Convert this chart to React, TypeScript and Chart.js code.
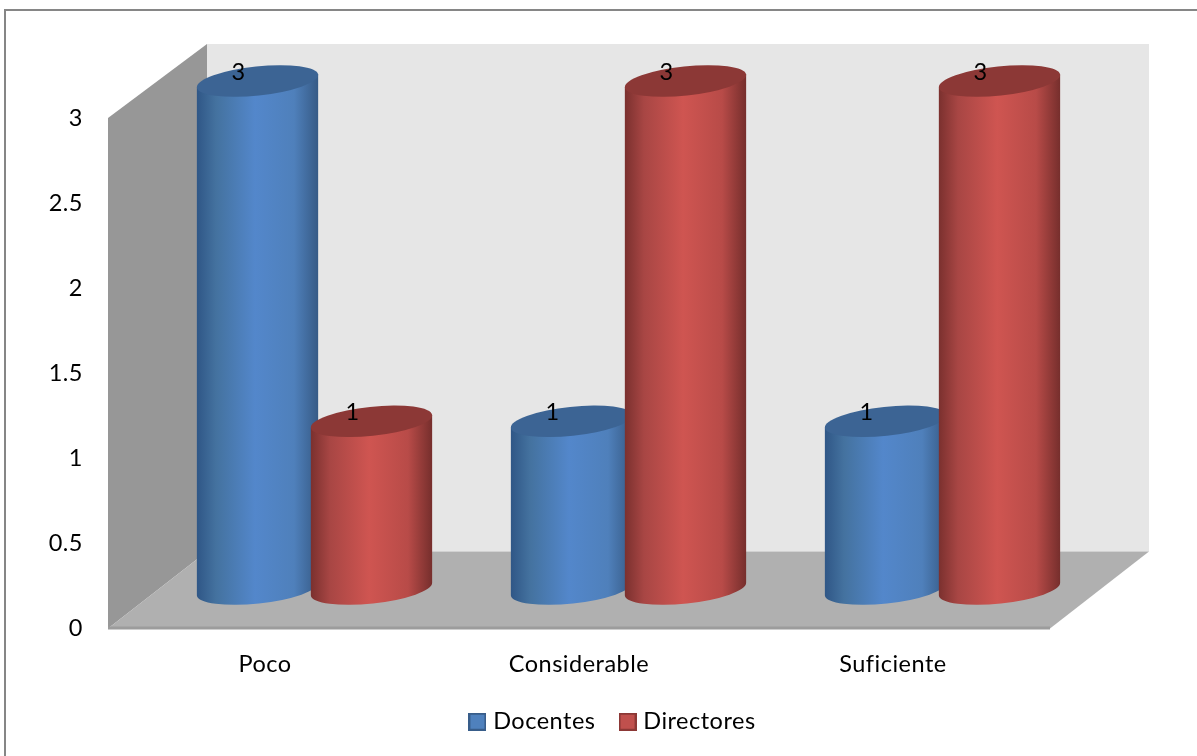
import React, { useEffect, useRef } from "react";
import { Chart, registerables } from "chart.js";

Chart.register(...registerables);

const categories = ["Poco", "Considerable", "Suficiente"];
const docentes = [3, 1, 1];
const directores = [1, 3, 3];
const yTicks = [0, 0.5, 1, 1.5, 2, 2.5, 3];

const FONT = "Lato";
const FONT_SIZE = 23.5;
const DEPTH_X = 99;
const DEPTH_Y = -74;
const FLOOR_DEPTH_Y = -77;
const TRACKING = "0.5px";

type Palette = { edgeL: string; midL: string; mid: string; midR: string; edgeR: string; cap: string; fill: string; line: string };

const BLUE: Palette = { edgeL: "#2f5686", midL: "#44729f", mid: "#5387cb", midR: "#4f80bb", edgeR: "#365a85", cap: "#3c6494", fill: "#4f81bd", line: "#385d8a" };
const RED: Palette = { edgeL: "#7a302e", midL: "#a84644", mid: "#cf5551", midR: "#b84b48", edgeR: "#752e2c", cap: "#8c3836", fill: "#c0504d", line: "#8c3836" };
const palettes = [BLUE, RED];

function legendSwatch(p: Palette) {
  const c = document.createElement("canvas");
  c.width = 18;
  c.height = 18;
  const g = c.getContext("2d")!;
  g.fillStyle = p.fill;
  g.fillRect(0, 0, 18, 18);
  g.strokeStyle = p.line;
  g.lineWidth = 2;
  g.strokeRect(1, 1, 16, 16);
  return c;
}

// Page frame plus the three shaded planes of the 3D box.
const boxPlugin = {
  id: "box3d",
  beforeLayout(chart: any) {
    // Wider tracking on all labels; it has to be in place before labels are measured.
    chart.ctx.letterSpacing = TRACKING;
  },
  beforeDraw(chart: any) {
    const { ctx, width, height } = chart;
    ctx.letterSpacing = TRACKING;
    ctx.save();
    ctx.fillStyle = "#ffffff";
    ctx.fillRect(0, 0, width, height);
    ctx.fillStyle = "#868686";
    ctx.fillRect(4, 9, width - 4, 2);
    ctx.fillRect(4, 9, 2, height - 9);
    ctx.restore();
  },
  beforeDatasetsDraw(chart: any) {
    const { ctx, chartArea: a } = chart;
    const poly = (pts: number[][], color: string) => {
      ctx.fillStyle = color;
      ctx.beginPath();
      pts.forEach(([x, y], i) => (i ? ctx.lineTo(x, y) : ctx.moveTo(x, y)));
      ctx.closePath();
      ctx.fill();
    };
    const backBottom = a.bottom + FLOOR_DEPTH_Y;
    ctx.save();
    poly([[a.left + DEPTH_X, a.top + DEPTH_Y], [a.right + DEPTH_X, a.top + DEPTH_Y], [a.right + DEPTH_X, backBottom], [a.left + DEPTH_X, backBottom]], "#e6e6e6");
    poly([[a.left, a.top], [a.left + DEPTH_X, a.top + DEPTH_Y], [a.left + DEPTH_X, backBottom], [a.left, a.bottom]], "#979797");
    poly([[a.left, a.bottom], [a.left + DEPTH_X, backBottom], [a.right + DEPTH_X, backBottom], [a.right, a.bottom]], "#b0b0b0");
    ctx.fillStyle = "#9c9c9c";
    ctx.fillRect(a.left, a.bottom - 2, a.right - a.left, 3);
    ctx.restore();
  },
  afterDatasetsDraw(chart: any) {
    const { ctx } = chart;
    const tilt = -0.105;
    chart.data.datasets.forEach((ds: any, di: number) => {
      const p = palettes[di];
      chart.getDatasetMeta(di).data.forEach((bar: any, i: number) => {
        const cx = bar.x + DEPTH_X / 2;
        const topY = bar.y + DEPTH_Y / 2;
        const baseY = bar.base + DEPTH_Y / 2 - 2.5;
        const a = bar.width / 2;
        const b = 14.5;
        const dx = a * Math.cos(tilt);
        const dy = a * Math.sin(tilt);
        const grad = ctx.createLinearGradient(cx - a, 0, cx + a, 0);
        grad.addColorStop(0, p.edgeL);
        grad.addColorStop(0.16, p.midL);
        grad.addColorStop(0.48, p.mid);
        grad.addColorStop(0.8, p.midR);
        grad.addColorStop(1, p.edgeR);
        ctx.save();
        ctx.fillStyle = grad;
        ctx.beginPath();
        ctx.moveTo(cx + dx, topY + dy);
        ctx.lineTo(cx + dx, baseY + dy);
        ctx.ellipse(cx, baseY, a, b, tilt, 0, Math.PI);
        ctx.lineTo(cx - dx, topY - dy);
        ctx.closePath();
        ctx.fill();
        ctx.fillStyle = p.cap;
        ctx.beginPath();
        ctx.ellipse(cx, topY, a, b, tilt, 0, Math.PI * 2);
        ctx.fill();
        ctx.restore();
      });
    });
    // Value labels sit over the caps, after every cylinder has been painted.
    chart.data.datasets.forEach((ds: any, di: number) => {
      chart.getDatasetMeta(di).data.forEach((bar: any, i: number) => {
        ctx.save();
        ctx.fillStyle = "#000000";
        ctx.font = `${FONT_SIZE}px ${FONT}`;
        ctx.textAlign = "center";
        ctx.textBaseline = "middle";
        ctx.fillText(String(ds.data[i]), bar.x + DEPTH_X / 2 - 19, bar.y + DEPTH_Y / 2 - 9);
        ctx.restore();
      });
    });
  },
  afterLayout(chart: any) {
    const lg = chart.legend;
    lg.left = 0;
    lg.right = 1229;
    lg.top = 682;
    lg.adjustHitBoxes();
  },
};

export default function App() {
  const ref = useRef<HTMLCanvasElement>(null);
  useEffect(() => {
    document.body.style.margin = "0";
    const chart = new Chart(ref.current!, {
      type: "bar",
      data: {
        labels: categories,
        datasets: [
          { label: "Docentes", data: docentes, backgroundColor: "rgba(0,0,0,0)", categoryPercentage: 0.726, barPercentage: 1.07 },
          { label: "Directores", data: directores, backgroundColor: "rgba(0,0,0,0)", categoryPercentage: 0.726, barPercentage: 1.07 },
        ],
      },
      plugins: [boxPlugin],
      options: {
        animation: false,
        responsive: false,
        layout: { padding: { top: 118, right: 147, left: 0, bottom: 19 } },
        scales: {
          x: {
            grid: { display: false, drawTicks: false },
            border: { display: false },
            ticks: { color: "#000000", font: { family: FONT, size: FONT_SIZE }, padding: 22, maxRotation: 0 },
            afterFit: (s: any) => { s.height = 47; },
          },
          y: {
            min: 0,
            max: 3,
            afterBuildTicks: (s: any) => { s.ticks = yTicks.map((value) => ({ value })); },
            grid: { display: false, drawTicks: false },
            border: { display: false },
            ticks: { color: "#000000", font: { family: FONT, size: FONT_SIZE }, padding: 25, callback: (v: any) => String(v) },
            afterFit: (s: any) => { s.width = 108; },
          },
        },
        plugins: {
          tooltip: { enabled: false },
          legend: {
            position: "bottom",
            labels: {
              usePointStyle: true,
              pointStyleWidth: 8,
              boxHeight: 17,
              padding: 28,
              color: "#000000",
              font: { family: FONT, size: FONT_SIZE },
              generateLabels: (c: any) =>
                c.data.datasets.map((ds: any, i: number) => ({
                  text: ds.label,
                  datasetIndex: i,
                  pointStyle: legendSwatch(palettes[i]),
                  fontColor: "#000000",
                  hidden: false,
                })),
            },
          },
        },
      },
    } as any);
    return () => chart.destroy();
  }, []);
  return <canvas ref={ref} width={1197} height={756} style={{ display: "block" }} />;
}
